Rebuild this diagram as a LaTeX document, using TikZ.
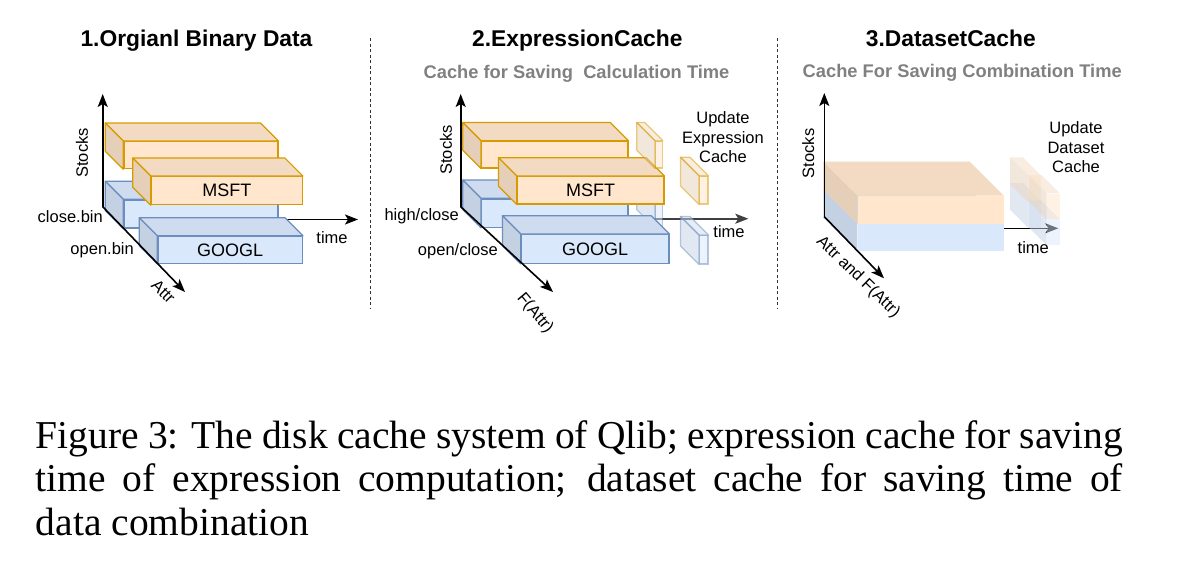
\documentclass[tikz,border=0pt]{standalone}
\usepackage{fontspec}
\setmainfont{Liberation Sans}
\newfontfamily\capfont{Liberation Serif}
\usetikzlibrary{arrows.meta}
\definecolor{ofill}{HTML}{FFE6CC}
\definecolor{otopc}{HTML}{F2DBC2}
\definecolor{osidec}{HTML}{E6CFB8}
\definecolor{oline}{HTML}{D79B00}
\definecolor{bfill}{HTML}{DAE8FC}
\definecolor{btopc}{HTML}{CFDCEF}
\definecolor{bsidec}{HTML}{C4D1E3}
\definecolor{bline}{HTML}{6C8EBF}
\definecolor{subgray}{HTML}{808080}
% top and left faces of a box whose front face is node #1
\newcommand{\boxfaces}[4]{%
  \draw[#2] (#1.north west) -- ++(-#4,-#4) -- ([shift={(-#4,-#4)}]#1.north east) -- (#1.north east) -- cycle;
  \draw[#3] (#1.north west) -- ++(-#4,-#4) -- ([shift={(-#4,-#4)}]#1.south west) -- (#1.south west) -- cycle;
}
\tikzset{
  title/.style={font=\bfseries\fontsize{22.8}{24}\selectfont, anchor=base, inner sep=0pt},
  subtitle/.style={font=\bfseries\fontsize{18.3}{20}\selectfont, text=subgray, anchor=base, inner sep=0pt},
  lbl/.style={font=\fontsize{16.5}{19.5}\selectfont, inner sep=0pt, align=center},
  axis/.style={line width=1.6pt, -{Stealth[length=13pt,width=10pt,inset=3pt]}},
  sep/.style={dash pattern=on 3pt off 2.5pt, line width=0.8pt, black!80},
  front/.style={line width=1.2pt, inner sep=0pt, anchor=north west, font=\fontsize{18}{20}\selectfont},
  ofront/.style={front, draw=oline, fill=ofill},
  bfront/.style={front, draw=bline, fill=bfill},
  otop/.style={draw=oline, fill=otopc, line width=1.2pt, line join=round},
  oside/.style={draw=oline, fill=osidec, line width=1.2pt, line join=round},
  btop/.style={draw=bline, fill=btopc, line width=1.2pt, line join=round},
  bside/.style={draw=bline, fill=bsidec, line width=1.2pt, line join=round},
  faint/.style={opacity=0.5},
  oflat/.style={fill=ofill, draw=none, inner sep=0pt, anchor=north west},
  bflat/.style={fill=bfill, draw=none, inner sep=0pt, anchor=north west},
  otopflat/.style={fill=otopc, draw=none},
  osideflat/.style={fill=osidec, draw=none},
  btopflat/.style={fill=btopc, draw=none},
  bsideflat/.style={fill=bsidec, draw=none},
  captext/.style={font=\capfont\fontsize{39.5}{44}\selectfont, anchor=base west, inner sep=0pt}
}
\begin{document}
\begin{tikzpicture}[x=1pt,y=-1pt]
\useasboundingbox (0,0) rectangle (1191,563);

% separators
\draw[sep] (370,38) -- (370,308);
\draw[sep] (777,38) -- (777,308);

% 1. original binary data
\node[title] (title1) at (196.5,46) {1.Orgianl Binary Data};
\coordinate (o1) at (102.7,206.7);
\coordinate (s1) at (102.7,94);
\coordinate (a1) at (185,292);
\coordinate (t1s) at (115,219.5);
\coordinate (t1) at (358,219.5);
\draw[axis] (t1s) -- (t1);
\node[ofront, minimum width=154pt, minimum height=27pt] (oback1) at (123.3,141) {};
\boxfaces{oback1}{otop}{oside}{18}
\node[bfront, minimum width=154pt, minimum height=28pt] (bback1) at (123.3,199.3) {};
\boxfaces{bback1}{btop}{bside}{18}
\node[ofront, minimum width=151pt, minimum height=28pt] (msft1) at (150.7,176) {MSFT};
\boxfaces{msft1}{otop}{oside}{18}
\node[bfront, minimum width=144.5pt, minimum height=27pt] (googl1) at (157.3,235.7) {GOOGL};
\boxfaces{googl1}{btop}{bside}{18}
\draw[axis] (o1) -- (s1);
\draw[axis] (o1) -- (a1);
\node[lbl, rotate=90] (stocks1) at (82,153) {Stocks};
\node[lbl, anchor=east] (close1) at (103,217) {close.bin};
\node[lbl, anchor=east] (open1) at (134,250) {open.bin};
\node[lbl] (time1) at (332,238) {time};
\node[lbl, rotate=-45] (attr1) at (163.3,291.7) {Attr};

% 2. expression cache
\node[title] (title2) at (577.3,46) {2.ExpressionCache};
\node[subtitle] (sub2) at (576.5,78.3) {Cache for Saving\ \ Calculation Time};
\coordinate (o2) at (460.7,206.7);
\coordinate (s2) at (460.7,94);
\coordinate (a2) at (553,292);
\coordinate (t2s) at (475,218.7);
\coordinate (t2) at (748.3,218.7);
\draw[axis, black!75] (t2s) -- (t2);
\node[ofront, minimum width=146.3pt, minimum height=26.6pt] (oback2) at (481,140.7) {};
\boxfaces{oback2}{otop}{oside}{18.3}
\node[bfront, minimum width=146.3pt, minimum height=28.4pt] (bback2) at (481,198.3) {};
\boxfaces{bback2}{btop}{bside}{18.3}
\node[bfront, faint, minimum width=6.7pt, minimum height=28.4pt] (bslab2a) at (655,198.3) {};
\boxfaces{bslab2a}{btop,faint}{bside,faint}{18.3}
\node[ofront, minimum width=146.6pt, minimum height=27.3pt] (msft2) at (516.7,176) {MSFT};
\boxfaces{msft2}{otop}{oside}{18.3}
\node[bfront, minimum width=147.6pt, minimum height=28.7pt] (googl2) at (520.7,234) {GOOGL};
\boxfaces{googl2}{btop}{bside}{18.3}
\node[ofront, faint, minimum width=6.7pt, minimum height=26.6pt] (oslab2a) at (655,140.7) {};
\boxfaces{oslab2a}{otop,faint}{oside,faint}{18.3}
\node[ofront, faint, minimum width=8.3pt, minimum height=27.6pt] (oslab2b) at (699,175.7) {};
\boxfaces{oslab2b}{otop,faint}{oside,faint}{18.5}
\node[bfront, faint, minimum width=8.3pt, minimum height=28.3pt] (bslab2b) at (699,235) {};
\boxfaces{bslab2b}{btop,faint}{bside,faint}{18.5}
\draw[axis] (o2) -- (s2);
\draw[axis] (o2) -- (a2);
\node[lbl, rotate=90] (stocks2) at (446,150) {Stocks};
\node[lbl, anchor=east] (high2) at (459,216.7) {high/close};
\node[lbl, anchor=east] (open2) at (498,251.7) {open/close};
\node[lbl] (time2) at (729,231.7) {time};
\node[lbl, rotate=-50] (fattr2) at (535,313.3) {F(Attr)};
\node[lbl] (upd2) at (723,137.5) {Update\\Expression\\Cache};

% 3. dataset cache
\node[title] (title3) at (950.8,46) {3.DatasetCache};
\node[subtitle] (sub3) at (962.2,77) {Cache For Saving Combination Time};
\coordinate (o3) at (824.3,216.7);
\coordinate (s3) at (824.3,93);
\coordinate (a3) at (884,278.3);
\coordinate (t3s) at (950,228.3);
\coordinate (t3) at (1058.3,228.3);
\draw[axis] (t3s) -- (t3);
\node[bflat, minimum width=146pt, minimum height=27.4pt] (bbig3) at (857.3,223.3) {};
\boxfaces{bbig3}{btopflat}{bsideflat}{34}
\node[oflat, minimum width=146pt, minimum height=27.6pt] (obig3) at (857.3,195.7) {};
\boxfaces{obig3}{otopflat}{osideflat}{34}
\node[bflat, faint, minimum width=12.6pt, minimum height=26pt] (bslab3a) at (1028.3,201.5) {};
\boxfaces{bslab3a}{btopflat,faint}{bsideflat,faint}{18.3}
\node[oflat, faint, minimum width=12.6pt, minimum height=25.8pt] (oslab3a) at (1028.3,175.7) {};
\boxfaces{oslab3a}{otopflat,faint}{osideflat,faint}{18.3}
\node[bflat, faint, minimum width=12.6pt, minimum height=26pt] (bslab3b) at (1046.7,219) {};
\boxfaces{bslab3b}{btopflat,faint}{bsideflat,faint}{18.3}
\node[oflat, faint, minimum width=12.6pt, minimum height=25.7pt] (oslab3b) at (1046.7,193.3) {};
\boxfaces{oslab3b}{otopflat,faint}{osideflat,faint}{18.3}
\draw[axis] (o3) -- (s3);
\draw[axis] (o3) -- (a3);
\node[lbl, rotate=90] (stocks3) at (808.3,153.3) {Stocks};
\node[lbl] (time3) at (1033.3,247.7) {time};
\node[lbl, rotate=-44] (attrf3) at (858,277) {Attr and F(Attr)};
\node[lbl] (upd3) at (1076,147.5) {Update\\Dataset\\Cache};

% caption
\node[captext] (cap1) at (35.7,448.3) {\makebox[1087pt][s]{Figure 3: The disk cache system of Qlib; expression cache for saving}};
\node[captext] (cap2) at (35.7,491.7) {\makebox[1087pt][s]{time of expression computation; dataset cache for saving time of}};
\node[captext] (cap3) at (35.7,535) {data combination};
\end{tikzpicture}
\end{document}
